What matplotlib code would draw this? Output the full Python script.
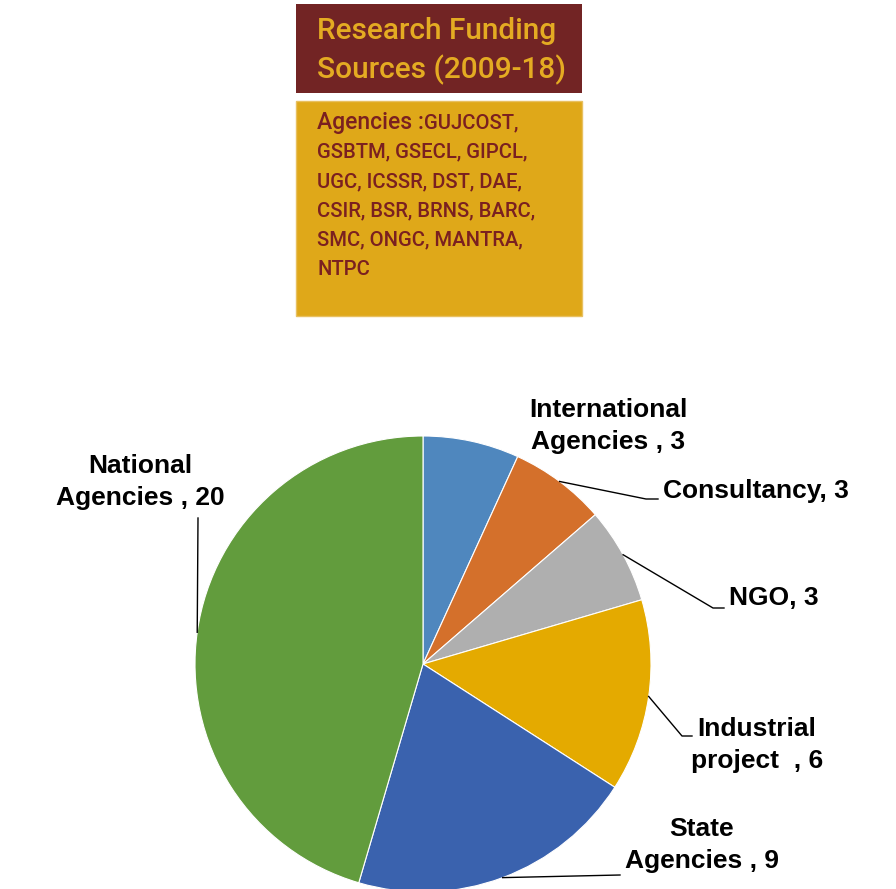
import matplotlib.pyplot as plt
import numpy as np
from matplotlib.patches import Rectangle

W, H = 896, 889

labels = ["International\nAgencies , 3", "Consultancy, 3", "NGO, 3",
          "Industrial\nproject  , 6", "State\nAgencies , 9", "National\nAgencies , 20"]
values = [3, 3, 3, 6, 9, 20]
colors = ["#4F87BE", "#D4702B", "#AFAFAF", "#E4AA00", "#3A62AE", "#629C3D"]

title_lines = ["Research Funding", "Sources (2009-18)"]
agency_head = "Agencies :"
agency_lines = ["GUJCOST,", "GSBTM, GSECL, GIPCL,", "UGC, ICSSR, DST, DAE,",
                "CSIR, BSR, BRNS, BARC,", "SMC, ONGC, MANTRA,", "NTPC"]

# label layout (pixel coords from top-left): text pos, alignment, leader elbow, leader end
label_pos = [
    ((608, 426), "center", None, None),
    ((663, 491), "left", (646, 499), (658, 499)),
    ((729, 598), "left", (713, 608), (724, 608)),
    ((757, 745), "center", (682, 736), (692, 736)),
    ((702, 845), "center", None, (620, 875)),
    ((140, 482), "center", None, (198, 518)),
]
anchor_override = {5: 172}

fig = plt.figure(figsize=(W / 100, H / 100), dpi=100)
ax = fig.add_axes([0, 0, 1, 1])


def Y(y):
    return H - y


cx, cy, r = 423, 664, 228
wedges, _ = ax.pie(values, colors=colors, startangle=90, counterclock=False,
                   center=(cx, Y(cy)), radius=r,
                   wedgeprops=dict(linewidth=0.8, edgecolor="white"))
ax.set_xlim(0, W)
ax.set_ylim(0, H)
ax.set_aspect("equal")
ax.axis("off")

lab_font = dict(family=["Liberation Sans Narrow", "Liberation Sans"], weight="bold",
                fontsize=19, color="black", linespacing=1.42)

for i, (w, lab) in enumerate(zip(wedges, labels)):
    (tx, ty), ha, elbow, end = label_pos[i]
    ax.text(tx, Y(ty), lab, ha=ha, va="center", multialignment="center", **lab_font)
    if end is None:
        continue
    ang = anchor_override.get(i, (w.theta1 + w.theta2) / 2)
    ax_x = cx + r * np.cos(np.radians(ang))
    ax_y = Y(cy) + r * np.sin(np.radians(ang))
    xs = [ax_x] + ([elbow[0]] if elbow else []) + [end[0]]
    ys = [ax_y] + ([Y(elbow[1])] if elbow else []) + [Y(end[1])]
    ax.plot(xs, ys, color="black", lw=1)

# title boxes
ax.add_patch(Rectangle((296, Y(93)), 286, 89, facecolor="#722424", edgecolor="none"))
ax.add_patch(Rectangle((296, Y(316)), 286, 215, facecolor="#DFA819", edgecolor="#E8C060", lw=1))

tfont = dict(family=["Roboto", "DejaVu Sans"], weight="medium", color="#E4AB22")
for k, line in enumerate(title_lines):
    ax.text(317, Y(31 + 39 * k), line, ha="left", va="center", fontsize=21.5, **tfont)

afont = dict(family=["Roboto", "DejaVu Sans"], weight="medium", color="#7A2020")
head = ax.text(317, Y(122), agency_head, ha="left", va="center", fontsize=16.5, **afont)
fig.canvas.draw()
bb = head.get_window_extent().transformed(ax.transData.inverted())
for k, line in enumerate(agency_lines):
    x0 = bb.x1 if k == 0 else 317
    ax.text(x0, Y(123 + 29.3 * k), line, ha="left", va="center", fontsize=14.6, **afont)

fig.savefig("out.png", dpi=100)
